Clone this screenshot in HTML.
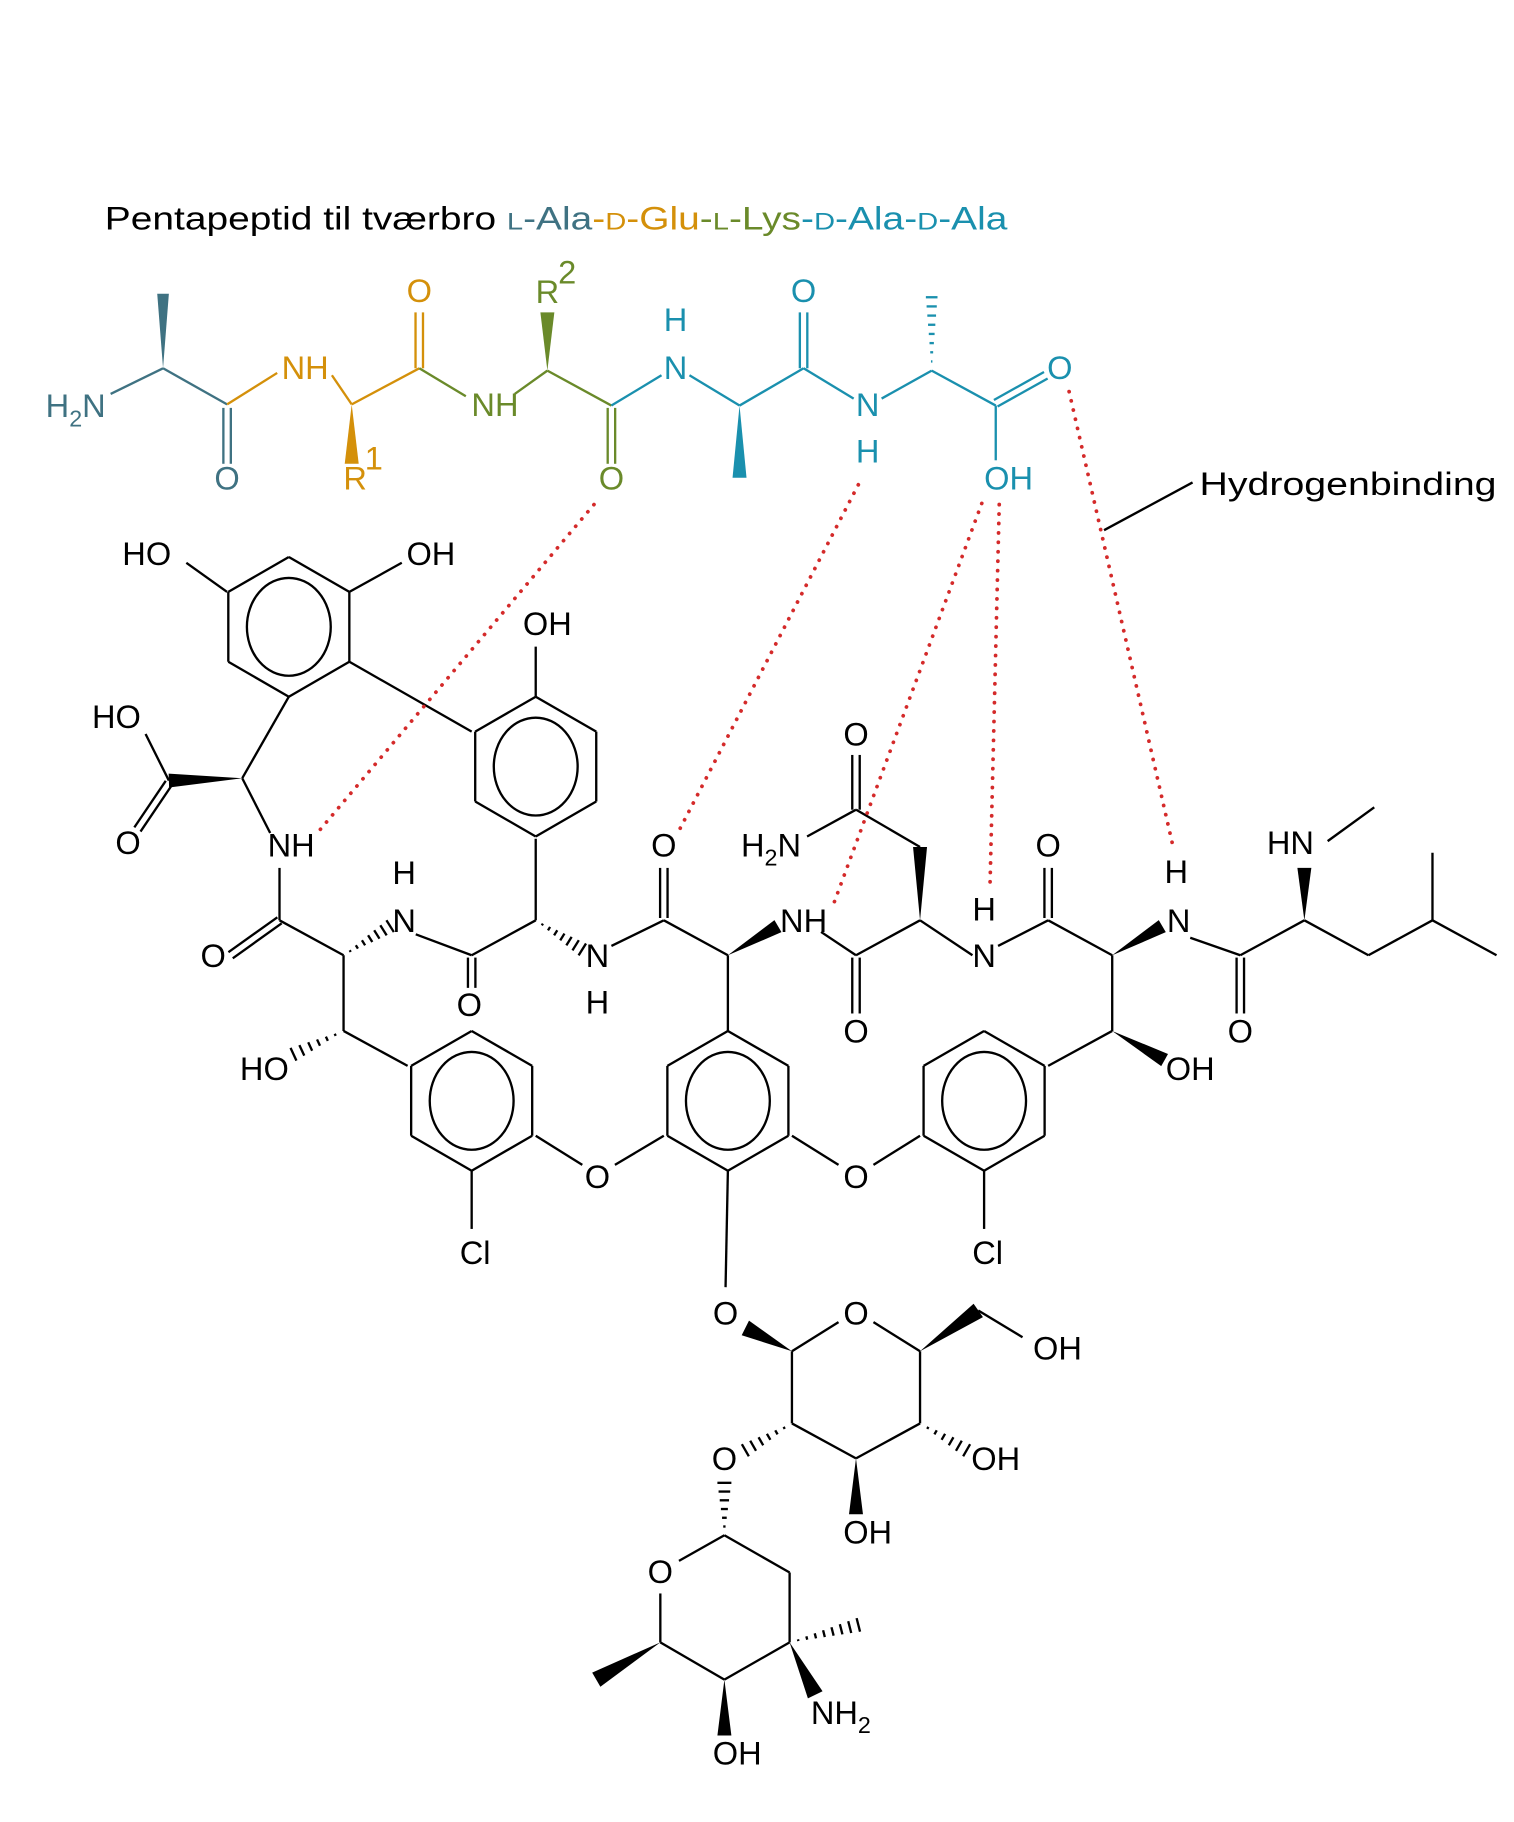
<!DOCTYPE html>
<html><head><meta charset="utf-8"><style>
html,body{margin:0;padding:0;background:#fff}
svg{display:block}
text{font-family:"Liberation Sans",sans-serif;font-size:28px}
</style></head><body>
<svg id="s" width="1514" height="1822" viewBox="0 0 1300 1564" xmlns="http://www.w3.org/2000/svg">
<g id="bonds" stroke-width="2" fill="none" stroke-linecap="butt"></g>
<g id="red" stroke="#d42a2a" stroke-width="3.2" stroke-linecap="round" stroke-dasharray="0.1 8" fill="none">
<line x1="510" y1="433" x2="275" y2="712"/>
<line x1="737" y1="416" x2="583" y2="713"/>
<line x1="843" y1="432" x2="715" y2="778"/>
<line x1="858" y1="433" x2="850" y2="763"/>
<line x1="918" y1="336" x2="1008" y2="730"/>
</g>
<line x1="948" y1="455" x2="1024" y2="414" stroke="#000" stroke-width="2"/>
<text x="90" y="197" font-size="29" textLength="775" lengthAdjust="spacingAndGlyphs">Pentapeptid til tværbro <tspan fill="#3f7282"><tspan font-size="21">L</tspan>-Ala</tspan><tspan fill="#d4900a">-<tspan font-size="21">D</tspan>-Glu</tspan><tspan fill="#6a8a2a">-<tspan font-size="21">L</tspan>-Lys</tspan><tspan fill="#1a90ae">-<tspan font-size="21">D</tspan>-Ala-<tspan font-size="21">D</tspan>-Ala</tspan></text>
<text x="1030" y="425" textLength="255" lengthAdjust="spacingAndGlyphs">Hydrogenbinding</text>
<g text-anchor="middle">
<g fill="#3f7282"><text x="65" y="358">H<tspan font-size="20" dy="8">2</tspan><tspan dy="-8">N</tspan></text><text x="195" y="420">O</text></g>
<g fill="#d4900a"><text x="262" y="325">NH</text><text x="360" y="259">O</text><text x="305" y="420">R</text><text x="321" y="403" font-size="20">1</text></g>
<g fill="#6a8a2a"><text x="425" y="357">NH</text><text x="470" y="260">R</text><text x="487" y="243" font-size="20">2</text><text x="525" y="420">O</text></g>
<g fill="#1a90ae"><text x="580" y="284">H</text><text x="580" y="325">N</text><text x="690" y="259">O</text><text x="745" y="357">N</text><text x="745" y="397">H</text><text x="910" y="325">O</text><text x="866" y="420">OH</text></g>
<g fill="#000">
<text x="126" y="485">HO</text><text x="370" y="485">OH</text><text x="470" y="545">OH</text>
<text x="100" y="625">HO</text><text x="110" y="733">O</text><text x="250" y="735">NH</text>
<text x="183" y="830">O</text><text x="347" y="759">H</text><text x="347" y="800">N</text>
<text x="403" y="872">O</text><text x="513" y="830">N</text><text x="513" y="870">H</text>
<text x="570" y="735">O</text><text x="690" y="800">NH</text><text x="735" y="640">O</text>
<text x="662" y="735">H<tspan font-size="20" dy="8">2</tspan><tspan dy="-8">N</tspan></text>
<text x="735" y="895">O</text><text x="845" y="790">H</text><text x="845" y="830">N</text>
<text x="900" y="735">O</text><text x="1010" y="758">H</text><text x="1012" y="800">N</text>
<text x="1065" y="895">O</text><text x="1108" y="733">HN</text>
<text x="227" y="927">HO</text><text x="1022" y="927">OH</text>
<text x="408" y="1085">Cl</text><text x="848" y="1085">Cl</text>
<text x="513" y="1020">O</text><text x="735" y="1020">O</text>
<text x="623" y="1137">O</text><text x="735" y="1137">O</text><text x="908" y="1167">OH</text>
<text x="622" y="1262">O</text><text x="855" y="1262">OH</text><text x="745" y="1325">OH</text>
<text x="567" y="1359">O</text><text x="633" y="1515">OH</text>
<text x="722" y="1480">NH<tspan font-size="20" dy="8">2</tspan></text>
</g>
</g>
</svg>
<script>
const g=document.getElementById('bonds'),NS='http://www.w3.org/2000/svg';
function el(t,a){const e=document.createElementNS(NS,t);for(const k in a)e.setAttribute(k,a[k]);g.appendChild(e);return e}
function L(c,pts){for(let i=0;i<pts.length-2;i+=2)el('line',{x1:pts[i],y1:pts[i+1],x2:pts[i+2],y2:pts[i+3],stroke:c})}
function D(c,x1,y1,x2,y2){const dx=x2-x1,dy=y2-y1,l=Math.hypot(dx,dy),nx=-dy/l*3.2,ny=dx/l*3.2;
 el('line',{x1:x1+nx,y1:y1+ny,x2:x2+nx,y2:y2+ny,stroke:c});el('line',{x1:x1-nx,y1:y1-ny,x2:x2-nx,y2:y2-ny,stroke:c})}
function W(c,x1,y1,x2,y2,w=5){const dx=x2-x1,dy=y2-y1,l=Math.hypot(dx,dy),nx=-dy/l*w,ny=dx/l*w;
 el('polygon',{points:`${x1},${y1} ${x2+nx},${y2+ny} ${x2-nx},${y2-ny}`,fill:c,stroke:'none'})}
function H(c,x1,y1,x2,y2,w=5,n=7){const dx=x2-x1,dy=y2-y1,l=Math.hypot(dx,dy),ux=-dy/l,uy=dx/l;
 for(let i=1;i<=n;i++){const t=i/n,x=x1+dx*t,y=y1+dy*t,h=w*t;el('line',{x1:x-ux*h,y1:y-uy*h,x2:x+ux*h,y2:y+uy*h,stroke:c})}}
function R(cx,cy,r,rot){let p=[];for(let i=0;i<=6;i++){const a=(rot+60*i)*Math.PI/180;p.push(cx+r*Math.cos(a),cy+r*Math.sin(a))}L('#000',p);
 el('ellipse',{cx:cx,cy:cy,rx:r*0.6,ry:r*0.7,stroke:'#000'})}
const A='#3f7282',B='#d4900a',C='#6a8a2a',Dc='#1a90ae',K='#000';
L(A,[95,338,140,316,195,347]);W(A,140,316,140,252,5);D(A,195,350,195,398);
L(B,[195,347,238,320]);L(B,[285,322,302,347,360,316]);W(B,302,347,302,398,6);D(B,360,316,360,268);
L(C,[360,316,400,340]);L(C,[442,338,470,318,525,348]);W(C,470,318,470,268,6);D(C,525,350,525,398);
L(Dc,[525,348,568,322]);L(Dc,[592,322,635,348,690,316,733,342]);W(Dc,635,348,635,410,6);D(Dc,690,316,690,268);
L(Dc,[757,342,800,318,855,348,855,395]);H(Dc,800,318,800,255,5,8);D(Dc,855,346,898,322);
R(248,538,60,-90);L(K,[195,508,160,483]);L(K,[300,508,345,483]);
L(K,[248,598,208,668]);W(K,208,668,145,670,6);L(K,[145,670,125,630]);D(K,145,672,118,712);
L(K,[208,668,232,715]);
L(K,[300,568,405,628]);
R(460,658,60,-90);L(K,[460,598,460,555]);L(K,[460,720,460,790]);
L(K,[240,745,240,790,295,820]);D(K,240,790,198,820);H(K,295,820,335,795,6,7);
L(K,[357,802,405,820,460,790]);D(K,405,822,405,848);H(K,460,790,500,815,6,7);
L(K,[525,812,570,790,625,820]);D(K,570,788,570,745);W(K,625,820,668,795,6);
L(K,[705,800,735,820,790,790]);D(K,735,822,735,870);W(K,790,790,790,727,6);
L(K,[790,727,735,695,693,718]);D(K,735,695,735,648);
L(K,[790,790,835,820]);L(K,[857,812,900,790,955,820]);D(K,900,788,900,745);
W(K,955,820,998,795,6);L(K,[1022,805,1065,820,1120,790,1175,820,1230,790,1285,820]);L(K,[1230,790,1230,732]);
D(K,1065,822,1065,870);W(K,1120,790,1120,745,6);L(K,[1140,722,1180,693]);
L(K,[295,820,295,885]);H(K,295,885,252,905,6,6);L(K,[295,885,350,915]);
R(405,945,60,-90);L(K,[405,1005,405,1055]);L(K,[460,975,500,1000]);L(K,[528,1000,570,975]);
L(K,[625,820,625,885]);R(625,945,60,-90);L(K,[680,975,720,1000]);L(K,[750,1000,790,975]);
R(845,945,60,-90);L(K,[900,915,955,885,955,820]);W(K,955,885,1000,910,6);L(K,[845,1005,845,1055]);
L(K,[625,1005,623,1105]);
W(K,680,1160,640,1140,7);L(K,[680,1160,720,1135]);L(K,[750,1135,790,1160,790,1222,735,1252,680,1222,680,1160]);
W(K,790,1160,840,1125,7);L(K,[840,1125,878,1148]);H(K,790,1222,830,1245,6,6);W(K,735,1252,735,1300,6);
H(K,680,1222,640,1245,6,6);H(K,622,1318,622,1273,6,6);
L(K,[583,1340,622,1318,678,1350,678,1410,622,1442,567,1410,567,1368]);
H(K,678,1410,737,1395,6,8);W(K,678,1410,700,1455,7);W(K,622,1442,622,1490,6);W(K,567,1410,512,1442,7);
</script>
</body></html>
